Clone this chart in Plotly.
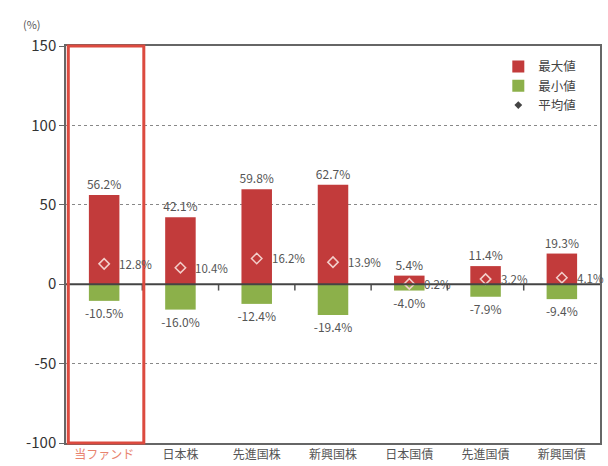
import plotly.graph_objects as go

categories = ["当ファンド", "日本株", "先進国株", "新興国株", "日本国債", "先進国債", "新興国債"]
max_vals = [56.2, 42.1, 59.8, 62.7, 5.4, 11.4, 19.3]
min_vals = [-10.5, -16.0, -12.4, -19.4, -4.0, -7.9, -9.4]
avg_vals = [12.8, 10.4, 16.2, 13.9, 0.2, 3.2, 4.1]
y_ticks = [150, 100, 50, 0, -50, -100]

RED = "#c23b3b"
GREEN = "#8cb04a"
TXT = "#555555"
FONT = "Noto Sans CJK JP"

x_idx = list(range(len(categories)))

fig = go.Figure()
fig.add_trace(go.Bar(
    x=x_idx, y=max_vals, name="最大値", marker=dict(color=RED, line=dict(width=0)),
    width=0.4, text=[f"{v:.1f}%" for v in max_vals], textposition="outside",
    constraintext="none",
    textfont=dict(size=12, color=TXT, family=FONT), cliponaxis=False,
))
fig.add_trace(go.Bar(
    x=x_idx, y=min_vals, name="最小値", marker=dict(color=GREEN, line=dict(width=0)),
    width=0.4, text=[f"{v:.1f}%" for v in min_vals], textposition="outside",
    constraintext="none",
    textfont=dict(size=12, color=TXT, family=FONT), cliponaxis=False,
))
fig.add_trace(go.Scatter(
    x=x_idx, y=avg_vals, mode="markers", showlegend=False,
    marker=dict(symbol="diamond-open", size=8, color="#f3cfcb", line=dict(width=1.5)),
))
fig.add_trace(go.Scatter(
    x=[None], y=[None], mode="markers", name="平均値",
    marker=dict(symbol="diamond", size=6, color="#444444"),
))

for i, v in zip(x_idx, avg_vals):
    fig.add_annotation(x=i, y=v, text=f"{v:.1f}%", showarrow=False, xanchor="left",
                       xshift=13, font=dict(size=11.5, color=TXT, family=FONT))

# tick marks on the zero line between categories
for b in range(len(categories) - 1):
    fig.add_shape(type="line", xref="x", yref="y", x0=b + 0.5, x1=b + 0.5, y0=0, y1=-4,
                  line=dict(color="#555555", width=1.5))
fig.add_shape(type="line", xref="paper", yref="y", x0=0, x1=1, y0=0, y1=0,
              line=dict(color="#444444", width=2))
# highlight box around first category
fig.add_shape(type="rect", xref="x", yref="paper", x0=-0.47, x1=0.52, y0=0, y1=1,
              line=dict(color="#dc4a3f", width=3))

ticktext = [f"<span style='color:#e8836e'>{categories[0]}</span>"] + categories[1:]
y_ticktext = [str(v) for v in y_ticks]

fig.update_layout(
    width=608, height=466,
    margin=dict(l=66, r=8, t=46, b=23, autoexpand=False),
    paper_bgcolor="white", plot_bgcolor="white",
    barmode="relative", bargap=0.6,
    font=dict(family=FONT, color=TXT),
    legend=dict(x=0.965, y=0.985, xanchor="right", yanchor="top",
                font=dict(size=12.5, color="#444444", family=FONT), bgcolor="rgba(0,0,0,0)",
                tracegroupgap=0, itemwidth=30),
    xaxis=dict(tickmode="array", tickvals=x_idx, ticktext=ticktext, range=[-0.5, len(categories) - 0.5],
               showgrid=False, zeroline=False, showline=True, mirror=True, linecolor="#666666",
               linewidth=1.5, ticks="", automargin=False,
               tickfont=dict(size=12, color=TXT, family=FONT)),
    yaxis=dict(range=[-100, 150], tickmode="array", tickvals=y_ticks, ticktext=y_ticktext,
               showgrid=True, gridcolor="#888888",
               griddash="dot", gridwidth=1, zeroline=False, showline=True, mirror=True,
               linecolor="#666666", linewidth=1.5, ticks="outside", ticklen=5, tickcolor="#666666",
               automargin=False, tickfont=dict(size=15, color="#333333", family=FONT)),
)
fig.add_annotation(xref="paper", yref="paper", x=-0.085, y=1.03, xanchor="left", yanchor="bottom",
                   text="(%)", showarrow=False, font=dict(size=11, color=TXT, family=FONT))

fig.write_html("out.html", config={"displayModeBar": False},
               post_script="document.body.style.margin='0';")
